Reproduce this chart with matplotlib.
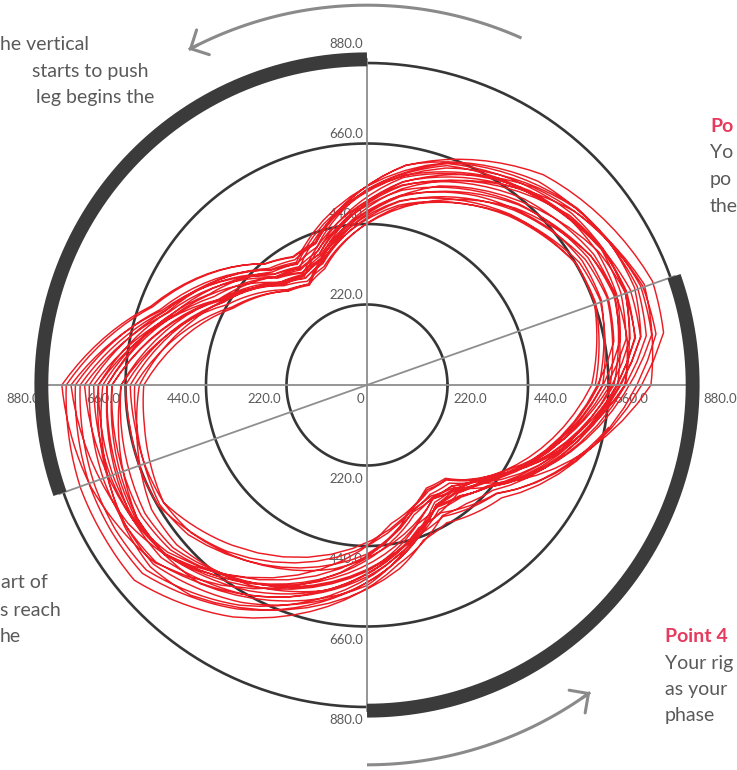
import numpy as np
import matplotlib

matplotlib.use('Agg')

import matplotlib.pyplot as plt

plt.rcParams['font.family'] = ['Lato', 'DejaVu Sans']

# crank angle of each force sample (degrees, counter-clockwise from 3 o'clock)
angles = list(range(0, 360, 10))

# pedal force for each revolution, one value per crank angle
lap_01 = [624, 651, 664, 661, 637, 603, 571, 542, 499, 447, 380, 338,
          315, 335, 377, 426, 501, 577, 635, 639, 649, 654, 637, 605,
          572, 540, 504, 462, 410, 366, 345, 350, 395, 468, 546, 613]
lap_02 = [685, 709, 718, 706, 680, 643, 606, 572, 523, 466, 397, 356,
          337, 360, 407, 462, 538, 625, 697, 702, 710, 713, 701, 667,
          625, 587, 541, 493, 443, 397, 380, 395, 434, 507, 585, 653]
lap_03 = [745, 775, 786, 772, 751, 720, 683, 647, 592, 527, 447, 401,
          387, 411, 462, 516, 588, 680, 759, 762, 765, 763, 753, 714,
          662, 616, 563, 509, 462, 415, 403, 425, 461, 536, 616, 685]
lap_04 = [796, 823, 830, 808, 785, 750, 709, 668, 609, 540, 460, 415,
          405, 433, 489, 549, 624, 727, 822, 828, 832, 830, 830, 792,
          732, 680, 617, 555, 497, 435, 412, 423, 448, 512, 581, 641]
lap_05 = [715, 743, 754, 742, 720, 687, 650, 616, 564, 503, 426, 381,
          363, 385, 432, 483, 556, 640, 710, 719, 731, 738, 734, 705,
          662, 624, 575, 524, 464, 404, 378, 379, 410, 473, 542, 601]
lap_06 = [655, 685, 701, 697, 677, 646, 615, 586, 540, 484, 409, 365,
          343, 362, 405, 453, 525, 601, 660, 658, 661, 659, 634, 594,
          555, 519, 482, 438, 396, 362, 350, 367, 419, 500, 585, 660]
lap_07 = [766, 790, 795, 775, 749, 712, 671, 631, 575, 509, 435, 393,
          381, 409, 464, 524, 602, 704, 797, 802, 806, 805, 801, 764,
          707, 658, 598, 540, 474, 409, 378, 372, 399, 459, 523, 578]
lap_08 = [614, 644, 661, 661, 640, 609, 579, 553, 511, 460, 388, 344,
          319, 336, 375, 421, 492, 561, 610, 618, 633, 642, 628, 600,
          572, 543, 510, 470, 421, 378, 360, 371, 415, 490, 569, 638]
lap_09 = [725, 760, 778, 769, 753, 727, 694, 662, 610, 546, 460, 411,
          395, 416, 463, 514, 581, 666, 734, 735, 737, 734, 718, 678,
          629, 585, 536, 485, 430, 381, 358, 361, 401, 471, 545, 609]
lap_10 = [675, 705, 721, 715, 695, 665, 633, 602, 555, 497, 418, 371,
          349, 367, 407, 453, 522, 595, 647, 644, 645, 642, 613, 572,
          535, 499, 464, 423, 377, 343, 325, 333, 387, 466, 549, 622]
lap_11 = [705, 736, 751, 742, 723, 693, 659, 627, 576, 515, 436, 390,
          373, 395, 443, 494, 566, 651, 722, 738, 755, 767, 773, 750,
          707, 669, 617, 563, 510, 451, 435, 457, 480, 548, 621, 684]
lap_12 = [786, 802, 800, 772, 739, 695, 647, 603, 544, 478, 406, 364,
          345, 367, 414, 467, 542, 627, 697, 706, 718, 726, 720, 691,
          649, 613, 566, 516, 456, 397, 370, 369, 402, 466, 535, 594]
lap_13 = [644, 668, 678, 670, 644, 606, 571, 539, 494, 441, 377, 338,
          317, 340, 386, 440, 518, 602, 672, 681, 693, 701, 692, 663,
          625, 590, 548, 501, 450, 400, 382, 396, 433, 504, 581, 648]
lap_14 = [735, 759, 765, 748, 722, 684, 644, 606, 553, 491, 420, 380,
          367, 395, 450, 511, 590, 691, 784, 789, 793, 793, 787, 750,
          695, 647, 589, 532, 474, 416, 393, 400, 429, 495, 565, 626]
lap_15 = [695, 730, 750, 745, 730, 704, 674, 644, 595, 534, 456, 412,
          403, 432, 490, 552, 629, 735, 834, 821, 805, 784, 756, 697,
          629, 571, 512, 454, 401, 358, 335, 337, 384, 456, 533, 600]
lap_16 = [665, 688, 698, 688, 662, 624, 588, 555, 509, 454, 390, 353,
          337, 364, 418, 478, 560, 658, 747, 745, 744, 738, 720, 677,
          625, 579, 529, 477, 424, 377, 355, 360, 402, 473, 549, 615]
lap_17 = [685, 719, 738, 740, 717, 689, 659, 629, 581, 521, 439, 389,
          369, 387, 429, 468, 542, 617, 672, 689, 710, 726, 722, 709,
          674, 642, 596, 548, 483, 417, 395, 386, 411, 471, 535, 591]
lap_18 = [634, 664, 681, 679, 659, 620, 597, 569, 526, 472, 405, 375,
          353, 381, 436, 497, 578, 679, 772, 762, 753, 738, 711, 658,
          600, 556, 499, 446, 404, 369, 358, 376, 418, 507, 592, 667]
lap_19 = [776, 796, 806, 775, 746, 706, 662, 620, 563, 497, 417, 369,
          345, 356, 399, 442, 509, 577, 622, 639, 668, 680, 679, 661,
          633, 606, 568, 524, 465, 406, 380, 383, 414, 478, 552, 607]
lap_20 = [665, 703, 726, 727, 715, 692, 672, 638, 592, 534, 450, 401,
          383, 403, 448, 497, 572, 646, 710, 716, 726, 730, 721, 683,
          645, 606, 559, 509, 449, 404, 385, 397, 432, 502, 577, 642]
lap_21 = [725, 745, 749, 730, 694, 660, 618, 579, 526, 466, 402, 366,
          355, 386, 445, 511, 596, 712, 809, 793, 776, 755, 721, 661,
          596, 540, 494, 431, 384, 348, 330, 338, 390, 468, 550, 622]
lap_22 = [705, 722, 724, 706, 674, 631, 588, 550, 499, 441, 380, 344,
          327, 354, 407, 467, 550, 647, 734, 745, 757, 763, 762, 733,
          686, 646, 593, 540, 487, 432, 415, 433, 462, 531, 606, 670]
laps = [lap_01, lap_02, lap_03, lap_04, lap_05, lap_06, lap_07, lap_08,
        lap_09, lap_10, lap_11, lap_12, lap_13, lap_14, lap_15, lap_16,
        lap_17, lap_18, lap_19, lap_20, lap_21, lap_22]

ring_values = [220, 440, 660, 880]
dead_centre = 19.5  # angle of the line splitting the two leg phases

W, H = 737, 770
CX, CY, R_PX = 367, 385, 322
PT = 0.72  # points per pixel at 100 dpi

RED = '#ec1c24'
RING = '#363636'
AXIS = '#8e8e8e'
LABEL = '#5a5a5a'
TITLE = '#e63a5e'

fig = plt.figure(figsize=(W / 100, H / 100), dpi=100)
ax = fig.add_axes([(CX - R_PX) / W, (H - CY - R_PX) / H, 2 * R_PX / W, 2 * R_PX / H],
                  projection='polar')
ax.set_ylim(0, 880)
ax.set_axis_off()

# force rings
circle = np.linspace(0, 2 * np.pi, 400)
for v in ring_values:
    ax.plot(circle, np.full_like(circle, v), color=RING, lw=1.9, zorder=2, clip_on=False)

# force trace, one continuous line over all revolutions
theta = []
radius = []
for k, lap in enumerate(laps):
    theta += [a + 360 * k for a in angles]
    radius += lap
trace, = ax.plot(np.deg2rad(theta), radius, color=RED, lw=1.05, zorder=3)
trace.get_path()._interpolation_steps = 10

# cross hairs and dead-centre line
for a in [0, 90, 180, 270, dead_centre, dead_centre + 180]:
    t = np.deg2rad(a)
    ax.plot([t, t], [0, 892], color=AXIS, lw=1.3, zorder=4, clip_on=False)

# thick arcs marking each leg's power phase
for start, end in [(-90, dead_centre), (90, 180 + dead_centre)]:
    t = np.deg2rad(np.linspace(start, end, 150))
    ax.plot(t, np.full_like(t, 890), color='#3b3b3b', lw=10, solid_capstyle='butt',
            clip_on=False, zorder=5)

# rotation arrows
arrow_r = 1038
for start, end in [(66, 118), (-90, -54)]:
    t = np.deg2rad(np.linspace(start, end, 100))
    ax.plot(t, np.full_like(t, arrow_r), color='#8a8a8a', lw=2.2, clip_on=False,
            solid_capstyle='butt')
    ax.annotate('', xy=(np.deg2rad(end), arrow_r), xytext=(np.deg2rad(end - 1.5), arrow_r),
                arrowprops=dict(arrowstyle='->,head_length=1,head_width=1', mutation_scale=10,
                                color='#8a8a8a', lw=2.2, shrinkA=0, shrinkB=0),
                annotation_clip=False)

# ring labels along both axes
tick_kw = dict(textcoords='offset points', fontsize=9.5, color=LABEL, zorder=1,
               annotation_clip=False)
for v in ring_values:
    lab = f'{v:.1f}'
    up = 15 if v == 880 else 6
    ax.annotate(lab, (np.pi / 2, v), xytext=(-4 * PT, up * PT), ha='right', va='baseline', **tick_kw)
    ax.annotate(lab, (-np.pi / 2, v), xytext=(-4 * PT, -7 * PT), ha='right', va='top', **tick_kw)
    right = 14 if v == 880 else 6
    ax.annotate(lab, (0, v), xytext=(right * PT, -18 * PT), ha='left', va='baseline', **tick_kw)
    ax.annotate(lab, (np.pi, v), xytext=(-5 * PT, -18 * PT), ha='right', va='baseline', **tick_kw)
ax.annotate('0', (0, 0), xytext=(-3 * PT, -18 * PT), ha='right', va='baseline', **tick_kw)

# side notes
body_kw = dict(fontsize=14, color=LABEL, va='center', ha='left')
notes = [('he vertical', 0, 45), ('starts to push', 32, 72), ('leg begins the', 36, 98),
         ('art of', 1, 583), ('s reach', 0, 610), ('he', 0, 637),
         ('Yo', 710, 153), ('po', 710, 180), ('the', 710, 206),
         ('Your rig', 665, 663), ('as your', 665, 690), ('phase', 665, 715)]
for s, x, y in notes:
    fig.text(x / W, 1 - y / H, s, **body_kw)

for s, x, y in [('Po', 710, 127), ('Point 4', 665, 637)]:
    fig.text(x / W, 1 - y / H, s, fontsize=14, color=TITLE, fontweight='bold',
             va='center', ha='left')

fig.savefig('out.png', dpi=100)
